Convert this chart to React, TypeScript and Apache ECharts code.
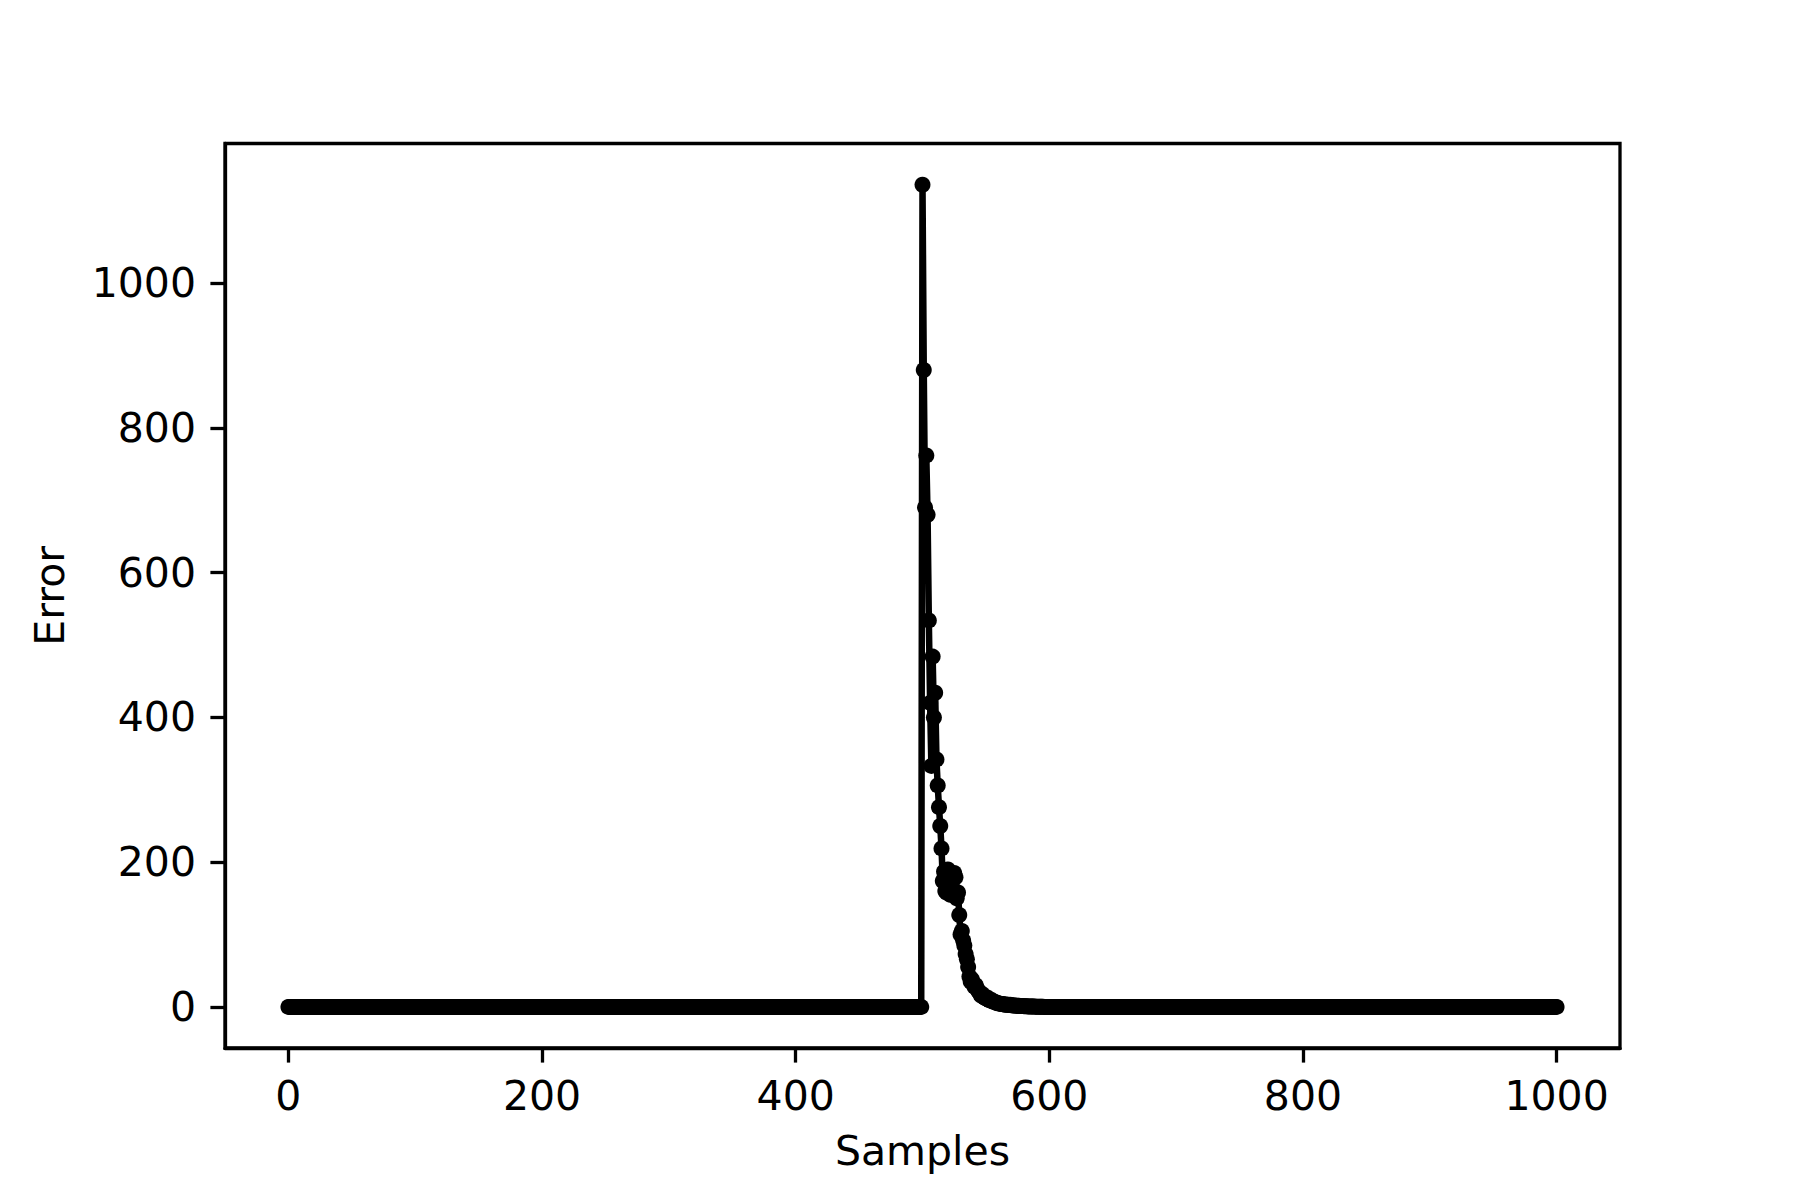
import React, { useEffect, useRef } from "react";
import * as echarts from "echarts";

// Sample indices run 0..1000; the error is ~0 everywhere except a spike starting at sample 500.
const sampleCount = 1001;
const spikeStart = 500;
const spikeValues = [
  1136, 880, 690, 762, 680, 534, 420, 333, 484, 400, 434, 342, 306, 276, 250,
  219, 174, 187, 160, 158, 190, 181, 155, 170, 162, 185, 179, 150, 158, 127,
  100, 105, 92, 85, 73, 66, 55, 42, 35, 38, 32, 28, 30, 25, 22,
  20, 16, 18, 14, 13, 12, 13, 10, 9, 10, 8, 7, 7, 6, 5,
  5, 4.5, 4, 4, 3.5, 3, 3.2, 2.8, 2.5, 3, 2.2, 2, 2, 1.8, 1.6,
  1.5, 1.6, 1.3, 1.2, 1.1, 1, 0.9, 0.8, 0.7, 0.7, 0.6, 0.5, 0.4, 0.4, 0.3,
  0.3, 0.2, 0.2, 0.1, 0.1, 0.1,
];
const baselineValue = 0;
const xTicks = [0, 200, 400, 600, 800, 1000];
const yTicks = [0, 200, 400, 600, 800, 1000];

export default function App() {
  const ref = useRef<HTMLDivElement>(null);
  useEffect(() => {
    if (!ref.current) return;
    const chart = echarts.init(ref.current, null, { renderer: "svg" });
    const data: [number, number][] = [];
    for (let i = 0; i < sampleCount; i++) {
      const k = i - spikeStart;
      const v = k >= 0 && k < spikeValues.length ? spikeValues[k] : baselineValue;
      data.push([i, v]);
    }
    const font = "DejaVu Sans";
    const fs = 41;
    const fmt = (v: number) => String(v);
    chart.setOption({
      animation: false,
      backgroundColor: "#ffffff",
      textStyle: { fontFamily: font, color: "#000" },
      grid: {
        left: 225,
        right: 180,
        top: 143.5,
        bottom: 152,
        show: true,
        borderColor: "#000",
        borderWidth: 3.3,
        backgroundColor: "transparent",
      },
      xAxis: {
        type: "value",
        min: -50,
        max: 1050,
        name: "Samples",
        nameLocation: "middle",
        nameGap: 82,
        nameTextStyle: { fontFamily: font, fontSize: fs, color: "#000" },
        axisLine: { show: true, onZero: false, lineStyle: { color: "#000", width: 3.3 } },
        axisTick: {
          show: true,
          length: 14.6,
          lineStyle: { color: "#000", width: 3.3 },
          customValues: xTicks,
        },
        axisLabel: {
          show: true,
          margin: 27,
          fontFamily: font,
          fontSize: fs,
          color: "#000",
          formatter: fmt,
          customValues: xTicks,
        },
        splitLine: { show: false },
      },
      yAxis: {
        type: "value",
        min: -56.8,
        max: 1193,
        name: "Error",
        nameLocation: "middle",
        nameGap: 155,
        nameRotate: 90,
        nameTextStyle: { fontFamily: font, fontSize: fs, color: "#000" },
        axisLine: { show: true, onZero: false, lineStyle: { color: "#000", width: 3.3 } },
        axisTick: {
          show: true,
          length: 14.6,
          lineStyle: { color: "#000", width: 3.3 },
          customValues: yTicks,
        },
        axisLabel: {
          show: true,
          margin: 29,
          fontFamily: font,
          fontSize: fs,
          color: "#000",
          formatter: fmt,
          customValues: yTicks,
        },
        splitLine: { show: false },
      },
      series: [
        {
          type: "line",
          data,
          showSymbol: true,
          symbol: "circle",
          symbolSize: 16,
          itemStyle: { color: "#000", borderWidth: 0 },
          lineStyle: { color: "#000", width: 6.5 },
          emphasis: { disabled: true },
          silent: true,
        },
      ],
    });
    return () => chart.dispose();
  }, []);
  return (
    <div
      ref={ref}
      style={{ position: "absolute", left: 0, top: 0, width: 1800, height: 1200 }}
    />
  );
}
